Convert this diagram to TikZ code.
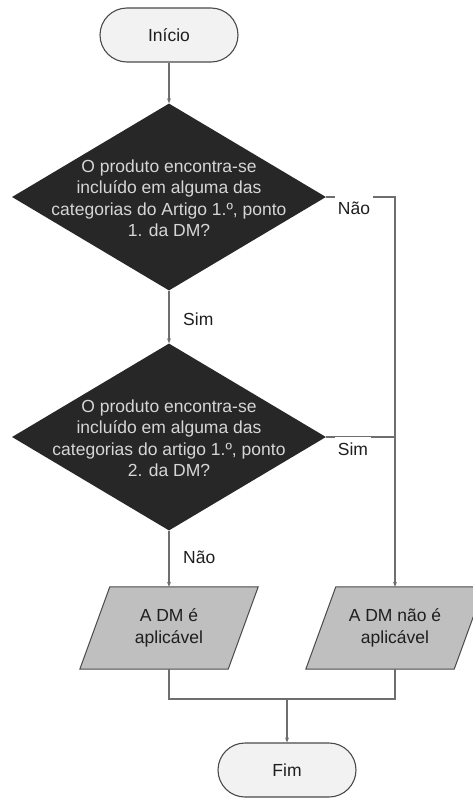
\documentclass[tikz,border=0pt]{standalone}
\usepackage{fontspec}
\setmainfont{Liberation Sans}
\usetikzlibrary{shapes.geometric,arrows.meta,backgrounds}
\definecolor{linegray}{HTML}{6E6E6E}
\definecolor{edgegray}{HTML}{4A4A4A}
\definecolor{termfill}{HTML}{F2F2F2}
\definecolor{decfill}{HTML}{272727}
\definecolor{dectext}{HTML}{D6D6D6}
\definecolor{iofill}{HTML}{BFBFBF}
\definecolor{inktext}{HTML}{1E1E1E}
\tikzset{
  terminal/.style={draw=edgegray, line width=1.1pt, fill=termfill, rounded corners=27pt,
    minimum width=138pt, minimum height=54pt, inner sep=0pt, text=inktext},
  decision/.style={shape=diamond, fill=decfill, draw=none, inner sep=0pt,
    minimum width=314pt, minimum height=187pt},
  dectxt/.style={text=dectext, align=center, inner sep=0pt},
  iobox/.style={shape=rectangle, minimum width=178pt, minimum height=82pt,
    inner sep=0pt, align=center, text=inktext},
  ioshape/.style={draw=edgegray, line width=1pt, fill=iofill, line join=miter},
  conn/.style={draw=linegray, line width=1.1pt},
  tip/.style={-{Stealth[length=5pt,width=4pt]}},
  lbl/.style={text=inktext, inner sep=0pt, anchor=base west},
  lblcut/.style={text=inktext, fill=white, anchor=base, inner xsep=3pt, inner ysep=2pt,
    text height=16pt, text depth=4pt}
}
\begin{document}
\begin{tikzpicture}[x=1pt, y=-1pt, font=\fontsize{17.5}{21.5}\selectfont]
\useasboundingbox (0,0) rectangle (473,798);
\clip (0,0) rectangle (473,798);

% shapes
\node[terminal] (start) at (169,35) {Início};
\node[decision] (d1) at (169,197) {};
\node[dectxt] (d1t) at (169,198) {O produto encontra-se\\incluído em alguma das\\categorias do Artigo 1.º, ponto\\1. da DM?};
\node[decision] (d2) at (169,437) {};
\node[dectxt] (d2t) at (169,438) {O produto encontra-se\\incluído em alguma das\\categorias do artigo 1.º, ponto\\2. da DM?};
\node[iobox] (p1) at (169,628) {A DM é\\aplicável};
\node[iobox] (p2) at (395,628) {A DM não é\\aplicável};
\node[terminal] (fim) at (287,770) {Fim};
\coordinate (m) at (287,699);

% slanted input/output outlines behind the two result texts
\begin{scope}[on background layer]
  \foreach \p in {p1,p2}
    \path[ioshape] (\p.south west) -- ([xshift=30pt]\p.north west) -- (\p.north east)
      -- ([xshift=-30pt]\p.south east) -- cycle;
\end{scope}

% connectors
\draw[conn,tip] (start.south) -- (d1.north);
\draw[conn,tip] (d1.south) -- (d2.north);
\draw[conn,tip] (d2.south) -- (p1.north);
\draw[conn,tip] (d1.east) -| (p2.north);
\draw[conn] (d2.east) -- (d2.east -| p2.north);
\draw[conn] (p1.south) |- (m);
\draw[conn] (p2.south) |- (m);
\draw[conn,tip] (m) -- (fim.north);

% branch labels
\node[lblcut] (nao1) at (354,214) {Não};
\node[lblcut] (sim2) at (353,455) {Sim};
\node[lbl] (sim1) at (183,325) {Sim};
\node[lbl] (nao2) at (183,563) {Não};
\end{tikzpicture}
\end{document}
